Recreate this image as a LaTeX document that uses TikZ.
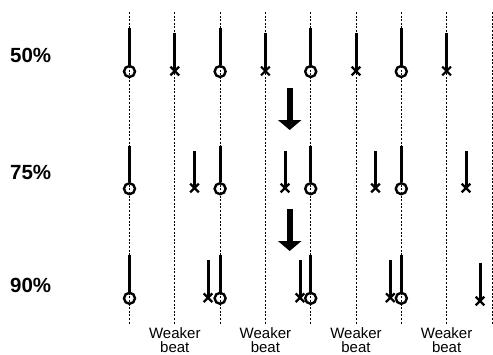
\documentclass[tikz,border=0pt]{standalone}
\usepackage{fontspec}
\setmainfont{Liberation Sans}
\usetikzlibrary{arrows.meta,shapes.misc}
\begin{document}
\begin{tikzpicture}[x=1pt,y=-1pt,
  grid/.style={line width=0.7pt, dash pattern=on 2pt off 1.6pt},
  stem/.style={line width=3pt},
  onbeat/.style={circle, draw, line width=2.4pt, minimum size=11pt, inner sep=0pt},
  offbeat/.style={cross out, draw, line width=2.2pt, minimum size=6.5pt, inner sep=0pt},
  pct/.style={font=\bfseries\fontsize{20.5}{24}\selectfont, anchor=west, inner sep=0pt},
  wlabel/.style={font=\fontsize{15}{15}\selectfont, anchor=base, inner sep=0pt},
  bigarrow/.style={line width=6pt, -{Triangle[length=10pt,width=23pt]}}]
\useasboundingbox (0,0) rectangle (493,354);

% dashed beat lines
\foreach \k in {0,...,8} {
  \coordinate (gt\k) at (129.5+45.3*\k,12);
  \coordinate (gb\k) at (129.5+45.3*\k,325);
  \draw[grid] (gt\k) -- (gb\k);
}

% row labels
\node[pct] (p50) at (10,55) {50\%};
\node[pct] (p75) at (10,172) {75\%};
\node[pct] (p90) at (10,285) {90\%};

% row 50%
\foreach \i/\x in {1/129.5,2/220.1,3/310.7,4/401.3} {
  \node[onbeat] (a\i) at (\x,71.5) {};
  \coordinate (at\i) at (\x,28);
  \draw[stem] (at\i) -- (a\i);
}
\foreach \i/\x in {1/174.8,2/265.4,3/356,4/446.6} {
  \node[offbeat] (ax\i) at (\x,71) {};
  \coordinate (axt\i) at (\x,33);
  \draw[stem] (axt\i) -- (ax\i.center);
}

% row 75%
\foreach \i/\x in {1/129.5,2/220.1,3/310.7,4/401.3} {
  \node[onbeat] (b\i) at (\x,188.7) {};
  \coordinate (bt\i) at (\x,145.7);
  \draw[stem] (bt\i) -- (b\i);
}
\foreach \i/\x in {1/194.5,2/285,3/375.5,4/466} {
  \node[offbeat] (bx\i) at (\x,188) {};
  \coordinate (bxt\i) at (\x,151);
  \draw[stem] (bxt\i) -- (bx\i.center);
}

% row 90%
\foreach \i/\x in {1/129.5,2/220.1,3/310.7,4/401.3} {
  \node[onbeat] (c\i) at (\x,298.3) {};
  \coordinate (ct\i) at (\x,255);
  \draw[stem] (ct\i) -- (c\i);
}
\foreach \i/\x/\yt/\yb in {1/208/260/297.7,2/300/260/297.7,3/390.3/260/297.7,4/480/262.7/301} {
  \node[offbeat] (cx\i) at (\x,\yb) {};
  \coordinate (cxt\i) at (\x,\yt);
  \draw[stem] (cxt\i) -- (cx\i.center);
}

% arrows
\coordinate (ar1s) at (289.7,88.3);
\coordinate (ar1e) at (289.7,130);
\draw[bigarrow] (ar1s) -- (ar1e);
\coordinate (ar2s) at (289.7,209.3);
\coordinate (ar2e) at (289.7,251);
\draw[bigarrow] (ar2s) -- (ar2e);

% weaker beat labels
\foreach \i/\x in {1/174.8,2/265.4,3/356,4/446.6} {
  \node[wlabel] (wa\i) at (\x,338.3) {Weaker};
  \node[wlabel] (wb\i) at (\x,352) {beat};
}
\end{tikzpicture}
\end{document}
